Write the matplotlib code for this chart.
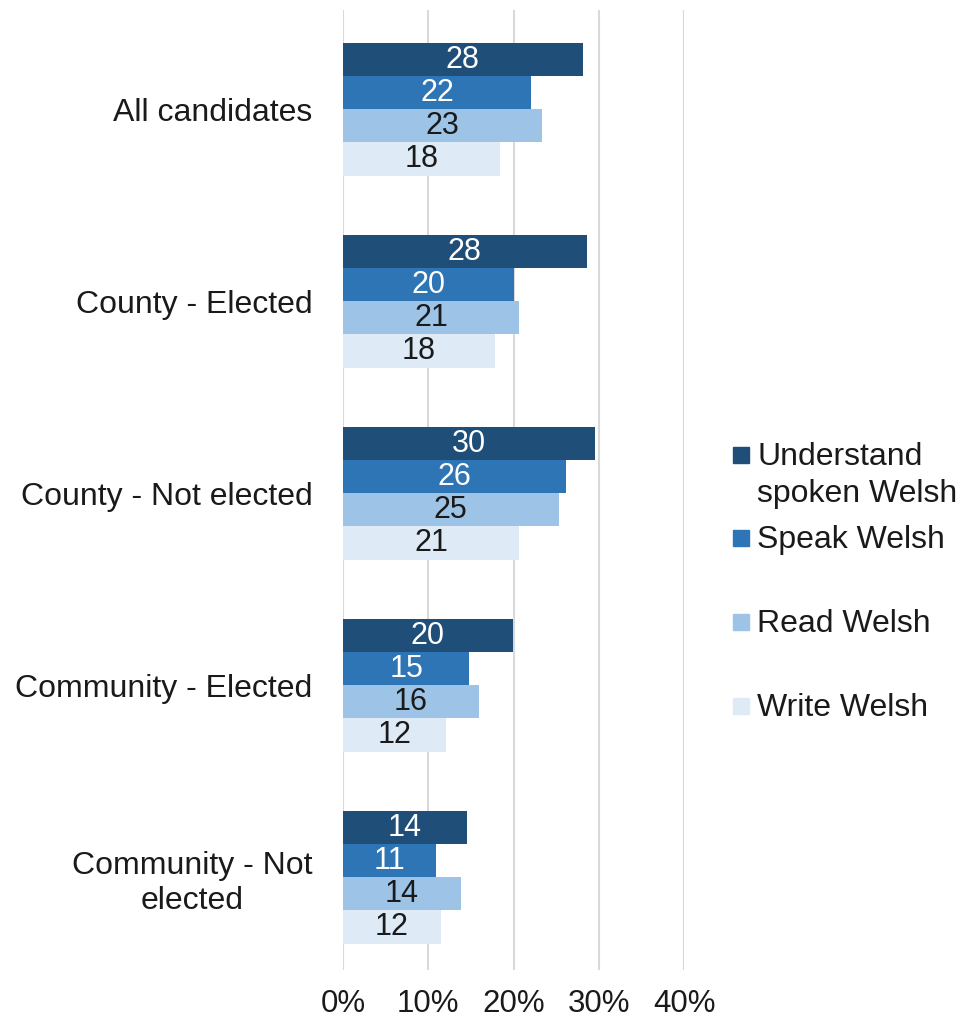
import numpy as np
import matplotlib
matplotlib.use("Agg")
import matplotlib.pyplot as plt
from matplotlib.ticker import FuncFormatter
from matplotlib.patches import Rectangle

plt.rcParams['font.family'] = ['Liberation Sans', 'DejaVu Sans']

# categories top to bottom
groups = ["All candidates", "County - Elected", "County - Not elected",
          "Community - Elected", "Community - Not\nelected"]
series = ["Understand\nspoken Welsh", "Speak Welsh", "Read Welsh", "Write Welsh"]

# bar lengths (percent)
understand = [28.1, 28.6, 29.6, 19.9, 14.5]
speak = [22.1, 20.1, 26.1, 14.8, 10.9]
read = [23.3, 20.7, 25.3, 15.9, 13.8]
write = [18.4, 17.8, 20.7, 12.1, 11.5]

# printed labels
understand_lbl = [28, 28, 30, 20, 14]
speak_lbl = [22, 20, 26, 15, 11]
read_lbl = [23, 21, 25, 16, 14]
write_lbl = [18, 18, 21, 12, 12]

colors = ["#1f4e79", "#2e75b6", "#9dc3e6", "#deebf7"]
text_colors = ["white", "white", "#1a1a1a", "#1a1a1a"]

W, H = 965, 1026
fig = plt.figure(figsize=(W / 100, H / 100), dpi=100)
ax = fig.add_axes([343 / W, 1 - 970 / H, 341 / W, 960 / H])

y = np.arange(len(groups))
h = 0.172
vals = [understand, speak, read, write]
lbls = [understand_lbl, speak_lbl, read_lbl, write_lbl]
for i, (v, lb) in enumerate(zip(vals, lbls)):
    pos = y - 1.5 * h + i * h
    bars = ax.barh(pos, v, height=h, color=colors[i], label=series[i], zorder=2)
    ax.bar_label(bars, labels=[str(n) for n in lb], label_type='center',
                 color=text_colors[i], fontsize=22)

ax.set_xlim(0, 40)
ax.set_ylim(len(groups) - 0.518, -0.518)
ax.set_xticks([0, 10, 20, 30, 40])
ax.xaxis.set_major_formatter(FuncFormatter(lambda v, p: f"{v:.0f}%"))
ax.set_yticks(y)
ax.set_yticklabels(groups, ha='right', multialignment='center', color='#1a1a1a')
ax.tick_params(axis='y', length=0, pad=22, labelsize=23)
ax.tick_params(axis='x', length=0, pad=14, labelsize=22.5, labelcolor='#1a1a1a')
ax.grid(axis='x', color='#d9d9d9', linewidth=1.5, zorder=0)
for s in ax.spines.values():
    s.set_visible(False)

# legend, placed like the original (first line of each label beside its square)
leg_y = [455, 538, 622, 706]
for i, name in enumerate(series):
    yy = 1 - leg_y[i] / H
    fig.patches.append(Rectangle((733 / W, yy - 8 / H), 16 / W, 16 / H,
                                 transform=fig.transFigure, color=colors[i]))
    fig.text(757 / W, yy + 13 / H, name, fontsize=23, va='top', ha='left',
             color='#1a1a1a', linespacing=1.32)

fig.savefig("out.png", dpi=100)
